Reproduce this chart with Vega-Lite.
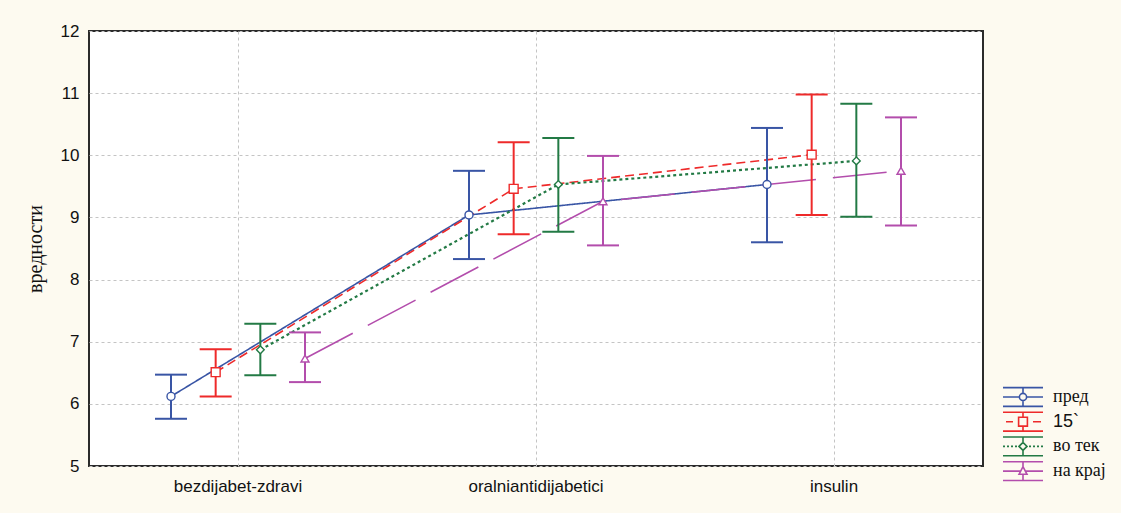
{
  "$schema": "https://vega.github.io/schema/vega-lite/v6.json",
  "width": 894,
  "height": 435,
  "autosize": {"type": "none"},
  "padding": {"left": 89, "top": 31, "right": 138, "bottom": 47},
  "background": "#FDFAF0",
  "config": {
    "view": {"fill": "white", "stroke": "#2b2b2b", "strokeWidth": 2},
    "axis": {
      "labelFont": "Liberation Sans",
      "labelFontSize": 17,
      "labelColor": "#111111",
      "gridColor": "#c4c4c4",
      "gridDash": [3, 3],
      "gridWidth": 1,
      "domain": false,
      "ticks": false
    }
  },
  "datasets": {
    "series": [
      {"group": "bezdijabet-zdravi", "series": "пред", "mean": 6.12, "lo": 5.76, "hi": 6.47},
      {"group": "oralniantidijabetici", "series": "пред", "mean": 9.04, "lo": 8.33, "hi": 9.75},
      {"group": "insulin", "series": "пред", "mean": 9.53, "lo": 8.60, "hi": 10.44},
      {"group": "bezdijabet-zdravi", "series": "15`", "mean": 6.51, "lo": 6.12, "hi": 6.88},
      {"group": "oralniantidijabetici", "series": "15`", "mean": 9.46, "lo": 8.73, "hi": 10.21},
      {"group": "insulin", "series": "15`", "mean": 10.01, "lo": 9.04, "hi": 10.98},
      {"group": "bezdijabet-zdravi", "series": "во тек", "mean": 6.87, "lo": 6.46, "hi": 7.29},
      {"group": "oralniantidijabetici", "series": "во тек", "mean": 9.53, "lo": 8.77, "hi": 10.28},
      {"group": "insulin", "series": "во тек", "mean": 9.91, "lo": 9.01, "hi": 10.83},
      {"group": "bezdijabet-zdravi", "series": "на крај", "mean": 6.73, "lo": 6.35, "hi": 7.15},
      {"group": "oralniantidijabetici", "series": "на крај", "mean": 9.26, "lo": 8.55, "hi": 9.99},
      {"group": "insulin", "series": "на крај", "mean": 9.75, "lo": 8.87, "hi": 10.61}
    ]
  },
  "data": {"name": "series"},
  "encoding": {
    "x": {
      "field": "group",
      "type": "nominal",
      "sort": ["bezdijabet-zdravi", "oralniantidijabetici", "insulin"],
      "scale": {"paddingInner": 0, "paddingOuter": 0},
      "axis": {"title": null, "labelAngle": 0, "labelPadding": 12, "grid": true, "bandPosition": 0.5}
    },
    "xOffset": {
      "field": "series",
      "type": "nominal",
      "sort": ["пред", "15`", "во тек", "на крај"],
      "scale": {"type": "point", "range": [82, 216], "padding": 0}
    },
    "y": {
      "field": "mean",
      "type": "quantitative",
      "scale": {"domain": [5, 12], "nice": false, "zero": false},
      "axis": {
        "title": "вредности",
        "values": [5, 6, 7, 8, 9, 10, 11, 12],
        "grid": true,
        "titleFont": "Liberation Serif",
        "titleFontSize": 20,
        "titleFontWeight": "normal",
        "titleColor": "#111111",
        "labelPadding": 10,
        "titlePadding": 15
      }
    },
    "stroke": {
      "field": "series",
      "type": "nominal",
      "scale": {"domain": ["пред", "15`", "во тек", "на крај"], "range": ["#3955A5", "#EE2A2A", "#237A45", "#B34DAC"]},
      "legend": null
    }
  },
  "layer": [
    {
      "mark": {"type": "point", "filled": false, "opacity": 0},
      "encoding": {
        "stroke": {
          "field": "series",
          "type": "nominal",
          "legend": {
            "orient": "none", "legendX": 923, "legendY": 355, "title": null,
            "symbolSize": 400, "symbolStrokeWidth": 1.6, "symbolOpacity": 1, "symbolFillColor": "white",
            "labelFont": {"expr": "datum.label == '15`' ? 'Liberation Sans' : 'Liberation Serif'"},
            "labelFontSize": 18, "labelColor": "#111111",
            "labelOffset": 19, "rowPadding": -1.3, "padding": 0
          }
        },
        "shape": {
          "field": "series",
          "type": "nominal",
          "scale": {
            "domain": ["пред", "15`", "во тек", "на крај"],
            "range": [
              "M-2,-0.94H2M-2,0.94H2M0,-0.94V-0.36M0,0.36V0.94M-2,0H-0.36M0.36,0H2M-0.36,0A0.36,0.36,0,1,0,0.36,0A0.36,0.36,0,1,0,-0.36,0Z",
              "M-2,-0.94H2M-2,0.94H2M0,-0.94V-0.44M0,0.44V0.94M-1.7,0H-1M1,0H1.8M-0.44,-0.44H0.44V0.44H-0.44Z",
              "M-2,-0.94H2M-2,0.94H2M0,-0.94V-0.4M0,0.4V0.94M-2,0H-1.8M-1.6,0H-1.4M-1.2,0H-1M-0.8,0H-0.6M0.6,0H0.8M1,0H1.2M1.4,0H1.6M1.8,0H2M-0.4,0L0,-0.4L0.4,0L0,0.4Z",
              "M-2,-0.94H2M-2,0.94H2M0,-0.94V-0.44M0,0.32V0.94M-2,0H-0.28M0.28,0H2M-0.4,0.32L0,-0.44L0.4,0.32Z"
            ]
          },
          "legend": {
            "orient": "none", "legendX": 923, "legendY": 355, "title": null,
            "symbolSize": 400, "symbolStrokeWidth": 1.6, "symbolOpacity": 1, "symbolFillColor": "white",
            "labelFont": {"expr": "datum.label == '15`' ? 'Liberation Sans' : 'Liberation Serif'"},
            "labelFontSize": 18, "labelColor": "#111111",
            "labelOffset": 19, "rowPadding": -1.3, "padding": 0
          }
        }
      }
    },
    {
      "transform": [{"filter": "datum.series !== 'во тек'"}],
      "mark": {"type": "line", "strokeWidth": 1.6},
      "encoding": {
        "strokeDash": {
          "field": "series",
          "type": "nominal",
          "scale": {"domain": ["на крај", "пред", "15`", "во тек"], "range": [[54, 17], [1, 0], [9, 5], [3, 3]]},
          "legend": null
        }
      }
    },
    {
      "transform": [{"filter": "datum.series === 'во тек'"}],
      "mark": {"type": "line", "strokeWidth": 2.2, "strokeDash": [3, 3]}
    },
    {
      "mark": {"type": "rule", "strokeWidth": 2},
      "encoding": {
        "y": {"field": "lo", "type": "quantitative"},
        "y2": {"field": "hi"}
      }
    },
    {
      "mark": {"type": "tick", "orient": "horizontal", "size": 32, "thickness": 2, "opacity": 1, "strokeWidth": 0},
      "encoding": {
        "y": {"field": "lo", "type": "quantitative"},
        "stroke": null,
        "fill": {
          "field": "series",
          "type": "nominal",
          "scale": {"domain": ["во тек", "пред", "15`", "на крај"], "range": ["#237A45", "#3955A5", "#EE2A2A", "#B34DAC"]},
          "legend": null
        }
      }
    },
    {
      "mark": {"type": "tick", "orient": "horizontal", "size": 32, "thickness": 2, "opacity": 1, "strokeWidth": 0},
      "encoding": {
        "y": {"field": "hi", "type": "quantitative"},
        "stroke": null,
        "fill": {
          "field": "series",
          "type": "nominal",
          "scale": {"domain": ["во тек", "пред", "15`", "на крај"], "range": ["#237A45", "#3955A5", "#EE2A2A", "#B34DAC"]},
          "legend": null
        }
      }
    },
    {
      "transform": [{"filter": "datum.series === 'пред'"}],
      "mark": {"type": "point", "shape": "circle", "filled": false, "fill": "white", "opacity": 1, "size": 64, "strokeWidth": 1.4}
    },
    {
      "transform": [{"filter": "datum.series === '15`'"}],
      "mark": {"type": "point", "shape": "square", "filled": false, "fill": "white", "opacity": 1, "size": 80, "strokeWidth": 1.4}
    },
    {
      "transform": [{"filter": "datum.series === 'во тек'"}],
      "mark": {"type": "point", "shape": "diamond", "filled": false, "fill": "white", "opacity": 1, "size": 60, "strokeWidth": 1.4}
    },
    {
      "transform": [{"filter": "datum.series === 'на крај'"}],
      "mark": {"type": "point", "shape": "triangle-up", "filled": false, "fill": "white", "opacity": 1, "size": 64, "strokeWidth": 1.4}
    }
  ]
}
